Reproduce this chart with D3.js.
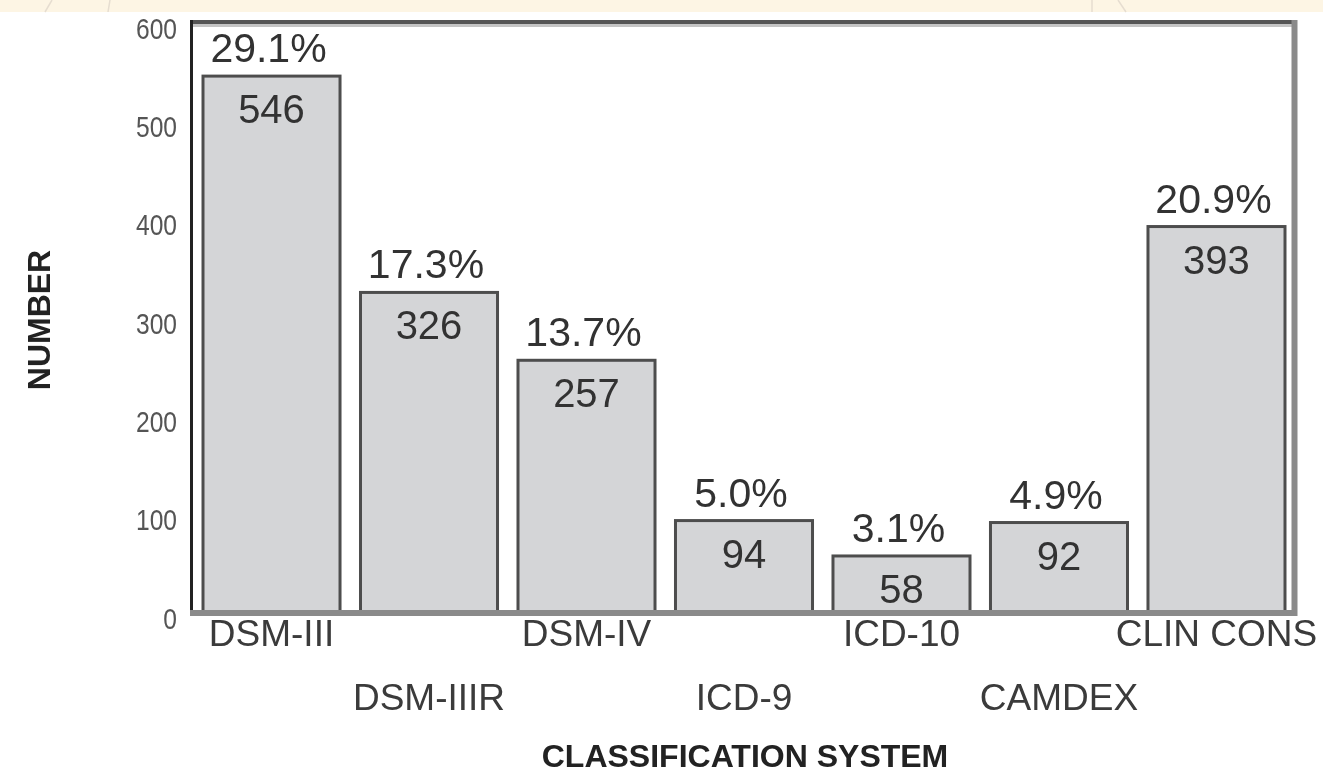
<!DOCTYPE html>
<html>
<head>
<meta charset="utf-8">
<script src="https://cdn.jsdelivr.net/npm/d3@7"></script>
<style>
  html, body { margin: 0; padding: 0; background: #fff; }
  svg { display: block; }
  text { font-family: "Liberation Sans", Arial, Helvetica, sans-serif; }
</style>
</head>
<body>
<svg id="chart" width="1323" height="773"></svg>
<script>
// Studies by diagnostic classification system
const categories = ["DSM-III", "DSM-IIIR", "DSM-IV", "ICD-9", "ICD-10", "CAMDEX", "CLIN CONS"];
const counts = [546, 326, 257, 94, 58, 92, 393];
const percents = ["29.1%", "17.3%", "13.7%", "5.0%", "3.1%", "4.9%", "20.9%"];
const yTicks = [0, 100, 200, 300, 400, 500, 600];

const svg = d3.select("#chart");
const W = 1323, H = 773;

svg.append("rect").attr("width", W).attr("height", H).attr("fill", "#fff");

// header strip
svg.append("rect").attr("x", 0).attr("y", 0).attr("width", W).attr("height", 12).attr("fill", "#fdf5e4");
[[45, 12, 52, 0], [108, 12, 110, 0], [1092, 12, 1092, 0], [1118, 0, 1126, 12]].forEach(d => {
  svg.append("line").attr("x1", d[0]).attr("y1", d[1]).attr("x2", d[2]).attr("y2", d[3])
    .attr("stroke", "#e6ddd0").attr("stroke-width", 1.5);
});

const defs = svg.append("defs");
defs.append("filter").attr("id", "soft")
  .attr("x", "-2%").attr("y", "-2%").attr("width", "104%").attr("height", "104%")
  .append("feGaussianBlur").attr("stdDeviation", 0.55);
const g = svg.append("g").attr("filter", "url(#soft)");

const y = d3.scaleLinear().domain([0, 600]).range([613, 23]);
const x = d3.scaleBand().domain(categories).range([203, 1285]).paddingInner(0.13).paddingOuter(0);

// bars
g.selectAll("rect.bar").data(categories).join("rect")
  .attr("class", "bar")
  .attr("x", d => x(d))
  .attr("y", (d, i) => y(counts[i]))
  .attr("width", x.bandwidth())
  .attr("height", (d, i) => y(0) - y(counts[i]))
  .attr("fill", "#d4d5d7")
  .attr("stroke", "#4e4e4e")
  .attr("stroke-width", 3);

// percentage above each bar
g.selectAll("text.pct").data(categories).join("text")
  .attr("class", "pct")
  .attr("x", d => x(d) + x.bandwidth() / 2 - 3)
  .attr("y", (d, i) => y(counts[i]) - 14)
  .attr("text-anchor", "middle")
  .attr("font-size", 41)
  .attr("fill", "#333")
  .text((d, i) => percents[i]);

// count inside each bar
g.selectAll("text.cnt").data(categories).join("text")
  .attr("class", "cnt")
  .attr("x", d => x(d) + x.bandwidth() / 2)
  .attr("y", (d, i) => y(counts[i]) + 47)
  .attr("text-anchor", "middle")
  .attr("font-size", 40)
  .attr("fill", "#333")
  .text((d, i) => counts[i]);

// frame
g.append("line").attr("x1", 190).attr("x2", 1297).attr("y1", 22).attr("y2", 22).attr("stroke", "#555").attr("stroke-width", 4);
g.append("line").attr("x1", 192).attr("x2", 1292).attr("y1", 25.5).attr("y2", 25.5).attr("stroke", "#c4c4c4").attr("stroke-width", 3);
g.append("line").attr("x1", 191.5).attr("x2", 191.5).attr("y1", 20).attr("y2", 616).attr("stroke", "#222").attr("stroke-width", 3);
g.append("line").attr("x1", 1294.5).attr("x2", 1294.5).attr("y1", 20).attr("y2", 616).attr("stroke", "#8a8a8a").attr("stroke-width", 6);
g.append("line").attr("x1", 190).attr("x2", 1297).attr("y1", y(0)).attr("y2", y(0)).attr("stroke", "#8a8a8a").attr("stroke-width", 6);

// y axis labels (narrow digits)
const squeeze = 0.82;
const yAxis = g.append("g").attr("transform", "translate(191,0)")
  .call(d3.axisLeft(y).tickValues(yTicks).tickSize(0).tickPadding(14));
yAxis.select(".domain").remove();
yAxis.selectAll("text")
  .attr("font-family", "Liberation Sans, Arial, sans-serif")
  .attr("font-size", 30)
  .attr("fill", "#555")
  .attr("x", -14 / squeeze)
  .attr("transform", `scale(${squeeze},1)`)
  .attr("dy", "0.5em");

// category labels, staggered in two rows
const xAxis = g.append("g").attr("transform", `translate(0,${y(0)})`)
  .call(d3.axisBottom(x).tickSize(0).tickPadding(0));
xAxis.select(".domain").remove();
xAxis.selectAll("text")
  .attr("font-family", "Liberation Sans, Arial, sans-serif")
  .attr("font-size", 37)
  .attr("fill", "#3a3a3a")
  .attr("dy", null)
  .attr("y", (d, i) => (i % 2 === 0 ? 33 : 97));

// axis titles
g.append("text")
  .attr("transform", "translate(50,320) rotate(-90)")
  .attr("text-anchor", "middle")
  .attr("font-size", 32)
  .attr("font-weight", "bold")
  .attr("fill", "#222")
  .text("NUMBER");

g.append("text")
  .attr("x", 745)
  .attr("y", 767)
  .attr("text-anchor", "middle")
  .attr("font-size", 32)
  .attr("font-weight", "bold")
  .attr("fill", "#222")
  .text("CLASSIFICATION SYSTEM");
</script>
</body>
</html>
